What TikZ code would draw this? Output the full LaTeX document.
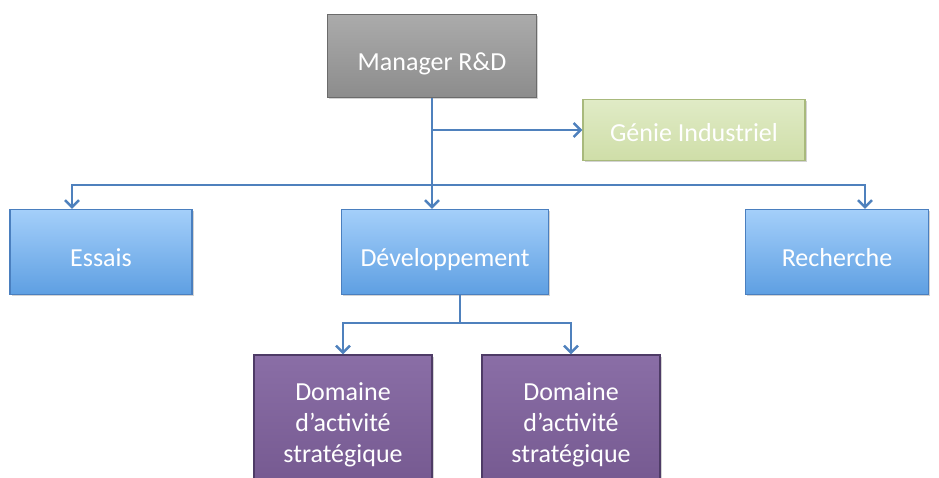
\documentclass[tikz,border=0pt]{standalone}
\usepackage{fontspec}
\setmainfont{Carlito}
\usetikzlibrary{arrows.meta, positioning, shadows}

\definecolor{linkblue}{HTML}{4F81BD}
\tikzstyle{block} = [rectangle, minimum height=85, text centered, text=white, line width=1.2, font=\fontsize{26}{31}\selectfont, drop shadow={shadow xshift=1.5pt, shadow yshift=-1.5pt, opacity=0.35}]
\tikzstyle{oneline} = [text height=30, text depth=1]
\tikzstyle{greyblock} = [block, oneline, top color=black!33, bottom color=black!45, draw=black!58]
\tikzstyle{greenblock} = [block, text height=24, text depth=1, top color={rgb,255:red,224;green,235;blue,198}, bottom color={rgb,255:red,207;green,222;blue,168}, draw={rgb,255:red,168;green,185;blue,124}]
\tikzstyle{blueblock} = [block, oneline, top color={rgb,255:red,164;green,207;blue,250}, bottom color={rgb,255:red,94;green,159;blue,226}, draw={rgb,255:red,74;green,127;blue,191}]
\tikzstyle{purpleblock} = [block, top color={rgb,255:red,138;green,110;blue,166}, bottom color={rgb,255:red,116;green,88;blue,143}, draw={rgb,255:red,78;green,59;blue,102}, align=center]
\tikzstyle{link} = [draw=linkblue, line width=2.5]
\tikzstyle{arrow} = [link, ->, >={Straight Barb[length=7pt, width=14pt, line width=2.5pt]}]

\begin{document}
\begin{tikzpicture}[x=1pt, y=-1pt]

    \useasboundingbox (0, 0) rectangle (939, 477);
    \clip (0, 0) rectangle (939, 477);

    \node (manager) [greyblock, minimum width=209, minimum height=83] at (432, 56) {Manager R\&D};
    \node (genie) [greenblock, minimum width=222, minimum height=61] at (694, 130) {Génie Industriel};
    \node (essais) [blueblock, minimum width=182] at (101, 252) {Essais};
    \node (dev) [blueblock, minimum width=207] at (445, 252) {Développement};
    \node (recherche) [blueblock, minimum width=183] at (837, 252) {Recherche};
    \node (das1) [purpleblock, minimum width=178, minimum height=140] at (343, 425) {Domaine\\d’activité\\stratégique};
    \node (das2) [purpleblock, minimum width=178, minimum height=140] at (571, 425) {Domaine\\d’activité\\stratégique};

    \coordinate (split) at (432, 130);
    \coordinate (bus) at (432, 185);
    \coordinate (devsplit) at (460, 323);

    \draw [arrow] (manager.south) -- (manager.south |- dev.north);
    \draw [arrow] (split) -- (genie.west);
    \draw [arrow] (bus) -| ([xshift=-29pt]essais.north);
    \draw [arrow] (bus) -| ([xshift=28pt]recherche.north);

    \draw [link] ([xshift=15pt]dev.south) -- (devsplit);
    \draw [arrow] (devsplit) -| (das1.north);
    \draw [arrow] (devsplit) -| (das2.north);

\end{tikzpicture}
\end{document}
